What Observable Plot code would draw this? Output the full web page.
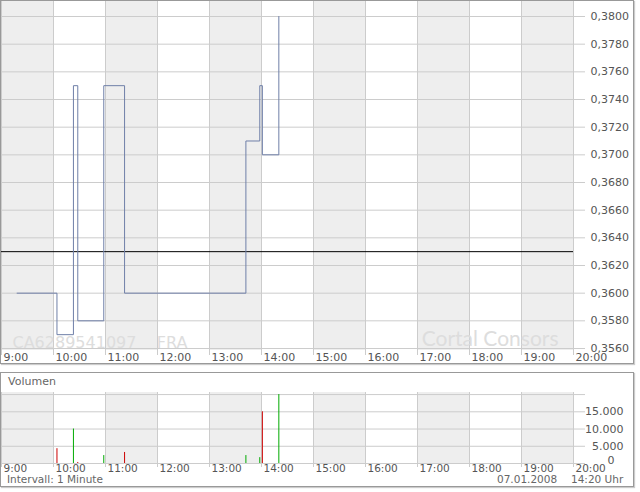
<!DOCTYPE html>
<html>
<head>
<meta charset="utf-8">
<script src="https://cdn.jsdelivr.net/npm/d3@7"></script>
<script src="https://cdn.jsdelivr.net/npm/@observablehq/plot@0.6"></script>
<style>
  html, body { margin: 0; padding: 0; background: #fff; }
  body { width: 640px; height: 492px; position: relative; overflow: hidden; font-family: "DejaVu Sans", Verdana, sans-serif; }
  .abs { position: absolute; }
  .panel { box-sizing: border-box; border: 1px solid #999; box-shadow: 1px 1px 1px #ccc; background: transparent; pointer-events: none; }
  .lbl { font-size: 11px; line-height: 12px; color: #666; white-space: nowrap; }
  .small { font-size: 10.5px; line-height: 11px; }
</style>
</head>
<body>
<div id="main" class="abs" style="left:0;top:0;"></div>
<div id="vol" class="abs" style="left:0;top:372px;"></div>
<div class="abs panel" style="left:0;top:0;width:634px;height:364px;"></div>
<div class="abs panel" style="left:0;top:372px;width:634px;height:115px;"></div>
<div class="abs lbl" style="left:8px;top:376px;">Volumen</div>
<div class="abs lbl small" style="left:7px;top:474px;">Intervall: 1 Minute</div>
<div class="abs lbl small" style="left:497px;top:474px;">07.01.2008</div>
<div class="abs lbl small" style="left:571px;top:474px;">14:20 Uhr</div>
<script>
// ---- data ----
const tradeTimes = ["9:18", "10:04", "10:23", "10:28", "10:58", "11:22", "13:42", "13:58", "14:01", "14:20"];
const tradePrices = [0.3600, 0.3570, 0.3750, 0.3580, 0.3750, 0.3600, 0.3710, 0.3750, 0.3700, 0.3800];
const tradeVolumes = [0, 4300, 10000, 300, 2300, 3200, 2300, 1700, 15000, 20000];
const prevClose = 0.3630;
const hourTicks = [9, 10, 11, 12, 13, 14, 15, 16, 17, 18, 19, 20];
const shadedHours = [9, 11, 13, 15, 17, 19];
const priceTicks = [0.356, 0.358, 0.360, 0.362, 0.364, 0.366, 0.368, 0.370, 0.372, 0.374, 0.376, 0.378, 0.380];
const volumeTicks = [0, 5000, 10000, 15000, 20000];
const isin = "CA6289541097    FRA";
const brand = "Cortal Consors";

const toHour = s => { const [h, m] = s.split(":").map(Number); return h + m / 60; };
const trades = tradeTimes.map((t, i) => ({
  x: toHour(t), price: tradePrices[i], vol: tradeVolumes[i],
  up: i === 0 ? true : tradePrices[i] >= tradePrices[i - 1]
}));

const font = "DejaVu Sans, Verdana, sans-serif";
const grid = "#cccccc";
const band = "#eeeeee";
const txt = "#555555";
const fmtPrice = v => d3.format(".4f")(v).replace(".", ",");
const fmtHour = h => `${h}:00`;

const main = Plot.plot({
  width: 640, height: 363,
  marginLeft: 1, marginRight: 67, marginTop: 1, marginBottom: 13,
  style: { background: "transparent", fontFamily: font, fontSize: "11px", color: txt, overflow: "visible" },
  x: { domain: [9, 20] },
  y: { domain: [0.355855, 0.381084] },
  marks: [
    Plot.rect(shadedHours, { x1: d => d, x2: d => d + 1, fill: band }),
    Plot.ruleY(priceTicks, { stroke: grid }),
    Plot.ruleX(hourTicks, { stroke: grid }),
    Plot.text([isin], { text: d => d, frameAnchor: "bottom-left", textAnchor: "start", dx: 11, dy: -3, fontSize: 16, fill: "#dddddd", lineAnchor: "bottom" }),
    Plot.text([brand], { text: d => d, frameAnchor: "bottom-right", textAnchor: "end", dx: -15, dy: -5, fontSize: 21, fill: "#dddddd", fontFamily: "Lato, sans-serif", lineAnchor: "bottom" }),
    Plot.ruleY([prevClose], { stroke: "#000" }),
    Plot.line(trades, { x: "x", y: "price", curve: "step-after", stroke: "#6f7fa8", strokeWidth: 1 }),
    Plot.axisY(priceTicks, { anchor: "right", tickSize: 11, tickPadding: 6, tickFormat: fmtPrice, stroke: grid, fill: txt, label: null }),
    Plot.axisX(hourTicks, { anchor: "bottom", tickSize: 5, tickFormat: () => "", stroke: grid, label: null }),
    Plot.axisX(hourTicks, { anchor: "bottom", tickSize: 0, tickPadding: 3, textAnchor: "start", dx: 2, tickFormat: fmtHour, fill: txt, label: null })
  ]
});
document.getElementById("main").appendChild(main);

const vol = Plot.plot({
  width: 640, height: 114,
  marginLeft: 1, marginRight: 67, marginTop: 20, marginBottom: 23,
  style: { background: "transparent", fontFamily: font, fontSize: "11px", color: txt, overflow: "visible" },
  x: { domain: [9, 20] },
  y: { domain: [0, 20600] },
  marks: [
    Plot.rect(shadedHours, { x1: d => d, x2: d => d + 1, fill: band }),
    Plot.ruleY(volumeTicks, { stroke: grid }),
    Plot.ruleX(hourTicks, { stroke: grid }),
    Plot.ruleX(trades.filter(d => d.vol > 0), { x: "x", y1: 0, y2: "vol", stroke: d => d.up ? "#00aa00" : "#cc0000", strokeWidth: 1 }),
    Plot.axisY(volumeTicks, { anchor: "right", tickSize: 11, tickPadding: 39, textAnchor: "end", tickFormat: v => (v === 0 || v === 20000) ? "" : d3.format(",")(v).replace(",", "."), stroke: grid, fill: txt, label: null }),
    Plot.text([0], { y: d => d, text: d => String(d), frameAnchor: "right", textAnchor: "start", dx: 34, dy: -3, fill: txt }),
    Plot.axisX(hourTicks, { anchor: "bottom", tickSize: 4, tickFormat: () => "", stroke: grid, label: null }),
    Plot.axisX(hourTicks, { anchor: "bottom", tickSize: 0, tickPadding: 1, textAnchor: "start", dx: 2, tickFormat: fmtHour, fill: txt, fontSize: 10.5, label: null })
  ]
});
document.getElementById("vol").appendChild(vol);
</script>
</body>
</html>
